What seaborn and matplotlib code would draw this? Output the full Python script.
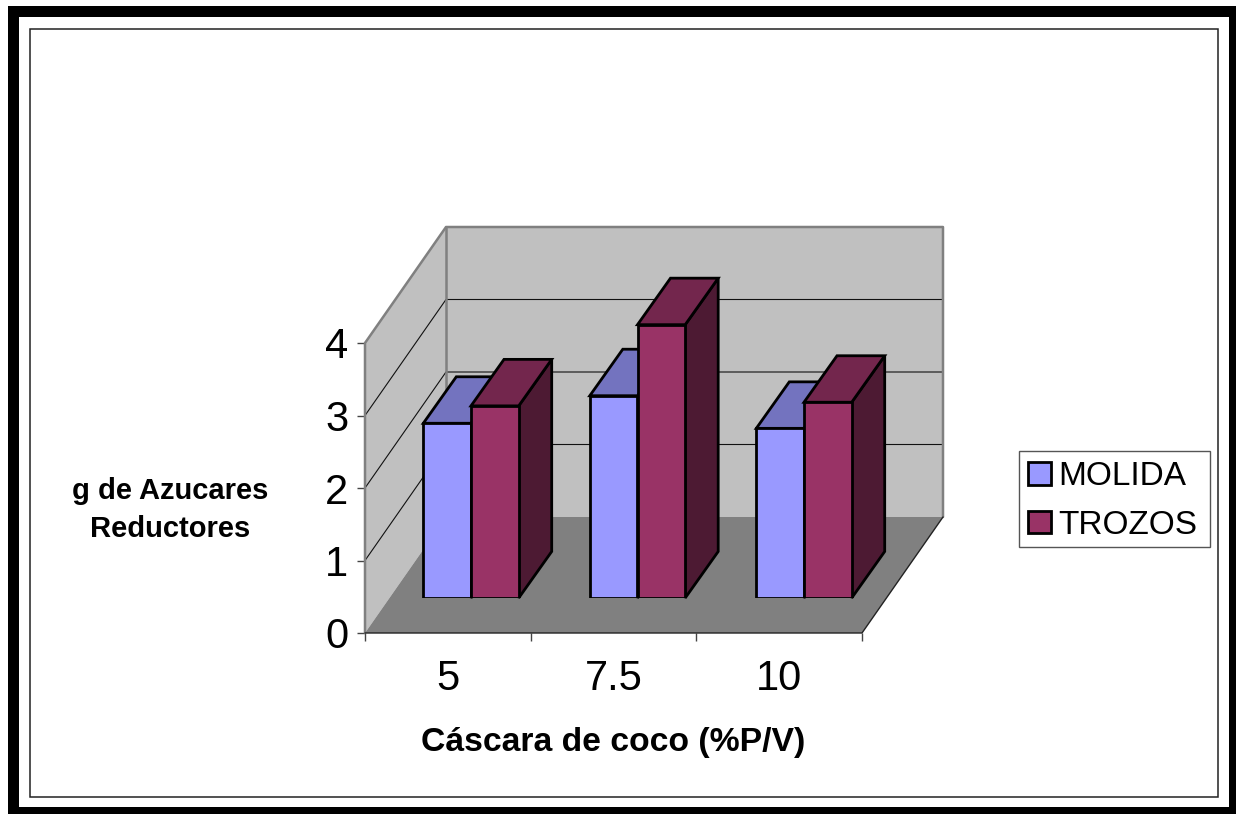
import matplotlib
matplotlib.use('Agg')
import matplotlib.pyplot as plt
from matplotlib.patches import Polygon, Rectangle
import pandas as pd
import seaborn as sns

categories = ['5', '7.5', '10']
molida = [2.41, 2.79, 2.34]
trozos = [2.65, 3.77, 2.70]
y_ticks = [0, 1, 2, 3, 4]

W, H = 1236, 814
FRONT = '#9999ff', '#993366'
TOP = '#7373bf', '#73264d'
SIDE = '#5c5c99', '#4d1a33'

sns.set_theme(style='white')
plt.rcParams['font.family'] = ['Liberation Sans', 'DejaVu Sans']
plt.rcParams['text.color'] = 'black'

df = pd.DataFrame({
    'cascara': categories * 2,
    'azucar': molida + trozos,
    'tipo': ['MOLIDA'] * 3 + ['TROZOS'] * 3,
})


def box(left, top, right, bottom):
    # pixel box -> figure fraction
    return [left / W, 1 - bottom / H, (right - left) / W, (bottom - top) / H]


fig = plt.figure(figsize=(W / 100, H / 100), dpi=100, facecolor='white')

# picture border, kept under the axes
fig.add_artist(Rectangle((8 / W, 0), (W - 8) / W, 1 - 6 / H, transform=fig.transFigure,
                         fc='black', ec='none', zorder=-3))
fig.add_artist(Rectangle((19 / W, 1 - 807 / H), 1210 / W, 790 / H, transform=fig.transFigure,
                         fc='white', ec='none', zorder=-2))
fig.add_artist(Rectangle((30.5 / W, 1 - 797 / H), 1187.5 / W, 768.5 / H, transform=fig.transFigure,
                         fc='none', ec='#222222', lw=1.1, zorder=-1))
# legend frame
fig.add_artist(Rectangle((1019 / W, 1 - 547 / H), 191 / W, 96 / H, transform=fig.transFigure,
                         fc='white', ec='#555555', lw=1, zorder=-1))

# front plane of the box: walls, floor, ticks
ax0 = fig.add_axes(box(365, 343, 862, 633))
ax0.set_xlim(0, 3)
ax0.set_ylim(0, 4)
ax0.patch.set_visible(False)
dx = 81 / (497 / 3)
dy = 116 / 72.5

ax0.add_patch(Polygon([(dx, dy), (3 + dx, dy), (3 + dx, 4 + dy), (dx, 4 + dy)], fc='#c0c0c0', ec='none', clip_on=False))
ax0.add_patch(Polygon([(0, 0), (dx, dy), (dx, 4 + dy), (0, 4)], fc='#c0c0c0', ec='none', clip_on=False))
ax0.add_patch(Polygon([(0, 0), (3, 0), (3 + dx, dy), (dx, dy)], fc='#808080', ec='none', clip_on=False))
for v in y_ticks[1:-1]:
    ax0.plot([0, dx, 3 + dx], [v, v + dy, v + dy], color='#111111', lw=0.8, clip_on=False)
ax0.plot([0, 0, dx, 3 + dx, 3 + dx], [0, 4, 4 + dy, 4 + dy, dy], color='#808080', lw=1.8, clip_on=False)
ax0.plot([dx, dx], [dy, 4 + dy], color='#808080', lw=1.8, clip_on=False)
ax0.plot([0, 3, 3 + dx], [0, 0, dy], color='#222222', lw=1, clip_on=False)

for s in ax0.spines.values():
    s.set_visible(False)
ax0.set_yticks(y_ticks)
ax0.set_xticks([0, 1, 2, 3])
ax0.set_xticklabels([])
ax0.set_xticks([0.5, 1.5, 2.5], labels=categories, minor=True)
ax0.tick_params(axis='both', which='major', length=6, width=1, color='#444444', left=True, bottom=True)
ax0.tick_params(axis='y', labelsize=30, pad=6, labelcolor='black')
ax0.tick_params(axis='x', which='minor', length=0, labelsize=30, pad=18.5, labelcolor='black', bottom=False)
ax0.set_xlabel('Cáscara de coco (%P/V)', fontsize=24.3, fontweight='bold', color='black')
ax0.xaxis.set_label_coords((613.5 - 365) / 497, -(742 - 633) / 290)
ax0.xaxis.label.set_verticalalignment('center')
ax0.set_ylabel('g de Azucares\nReductores', fontsize=21, fontweight='bold', color='black',
               rotation=0, ha='center', va='center', linespacing=1.45)
ax0.yaxis.set_label_coords((170 - 365) / 497, (633 - 510) / 290)

# bars sit part way into the box
ax = fig.add_axes(box(387.75, 308, 887.25, 598))
ax.patch.set_visible(False)
sns.barplot(data=df, x='cascara', y='azucar', hue='tipo', order=categories,
            palette=list(FRONT), saturation=1, width=0.573, gap=0,
            edgecolor='black', linewidth=2, ax=ax)
ax.set_xlim(-0.5, 2.5)
ax.set_ylim(0, 4)

bx = 33 / 166.5
by = 46.5 / 72.5
for i, cont in enumerate(ax.containers):
    for rect in cont:
        x0, y0 = rect.get_x(), rect.get_y()
        x1, y1 = x0 + rect.get_width(), y0 + rect.get_height()
        rect.set_joinstyle('miter')
        ax.add_patch(Polygon([(x1, y0), (x1 + bx, y0 + by), (x1 + bx, y1 + by), (x1, y1)],
                             fc=SIDE[i], ec='black', lw=2, clip_on=False, zorder=0.5 + i * 0.1))
        ax.add_patch(Polygon([(x0, y1), (x1, y1), (x1 + bx, y1 + by), (x0 + bx, y1 + by)],
                             fc=TOP[i], ec='black', lw=2, clip_on=False, zorder=0.5 + i * 0.1))

handles, labels = ax.get_legend_handles_labels()
ax.legend(handles, labels, loc='lower left',
          bbox_to_anchor=box(1019, 454, 1210, 550), bbox_transform=fig.transFigure,
          mode='expand', ncol=1, fontsize=24, frameon=False,
          borderpad=0.28, labelspacing=0.53, handlelength=0.68,
          handleheight=0.68, handletextpad=0.22, borderaxespad=0)
ax.axis('off')

fig.savefig('out.png', dpi=100)
